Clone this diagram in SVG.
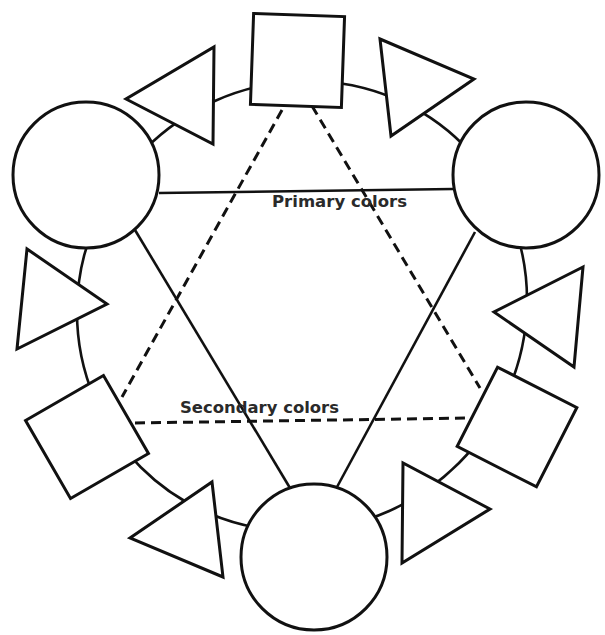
<svg xmlns="http://www.w3.org/2000/svg" width="605" height="635" viewBox="0 0 605 635">
<style>
.shape{fill:#fff;stroke:#111;stroke-width:3;stroke-linejoin:miter}
.ring{fill:none;stroke:#111;stroke-width:2.6}
.solid{fill:none;stroke:#111;stroke-width:2.6}
.dash{fill:none;stroke:#111;stroke-width:3;stroke-dasharray:10 6}
.lbl{font-family:"DejaVu Sans",Verdana,sans-serif;font-weight:bold;font-size:15px;fill:#2a2a2a}
</style>
<rect width="605" height="635" fill="#fff"/>
<g id="connectors">
<ellipse class="ring" cx="302" cy="306" rx="228" ry="222" transform="rotate(-45 302 306)"/>
<line class="solid" x1="159" y1="193" x2="453" y2="189"/>
<line class="solid" x1="135" y1="230" x2="290" y2="488"/>
<line class="solid" x1="475" y1="232" x2="337" y2="487"/>
<line class="dash" x1="282" y1="110" x2="122" y2="397"/>
<line class="dash" x1="312" y1="106" x2="480" y2="388"/>
<line class="dash" x1="135" y1="423" x2="468" y2="418"/>
</g>
<g id="labels">
<text class="lbl" x="272" y="207" textLength="135" lengthAdjust="spacingAndGlyphs">Primary colors</text>
<text class="lbl" x="180" y="413" textLength="159" lengthAdjust="spacingAndGlyphs">Secondary colors</text>
</g>
<g id="circle-left"><circle class="shape" cx="86" cy="175" r="73"/></g>
<g id="circle-right"><circle class="shape" cx="526" cy="175" r="73"/></g>
<g id="circle-bottom"><circle class="shape" cx="314" cy="557" r="73"/></g>
<g id="square-top"><rect class="shape" x="252" y="15" width="91" height="91" transform="rotate(2 297.5 60.5)"/></g>
<g id="square-left"><rect class="shape" x="42" y="392" width="90" height="90" transform="rotate(-30 87 437)"/></g>
<g id="square-right"><rect class="shape" x="472.5" y="382.5" width="89" height="89" transform="rotate(27 517 427)"/></g>
<g id="triangle-top-left"><polygon class="shape" points="214,47 213,144 126,99"/></g>
<g id="triangle-top-right"><polygon class="shape" points="380,39 391,136 474,79"/></g>
<g id="triangle-left"><polygon class="shape" points="27,249 17,349 107,304"/></g>
<g id="triangle-right"><polygon class="shape" points="583,267 574,367 494,312"/></g>
<g id="triangle-bottom-left"><polygon class="shape" points="212,482 223,577 130,538"/></g>
<g id="triangle-bottom-right"><polygon class="shape" points="403,463 402,563 490,509"/></g>
</svg>
